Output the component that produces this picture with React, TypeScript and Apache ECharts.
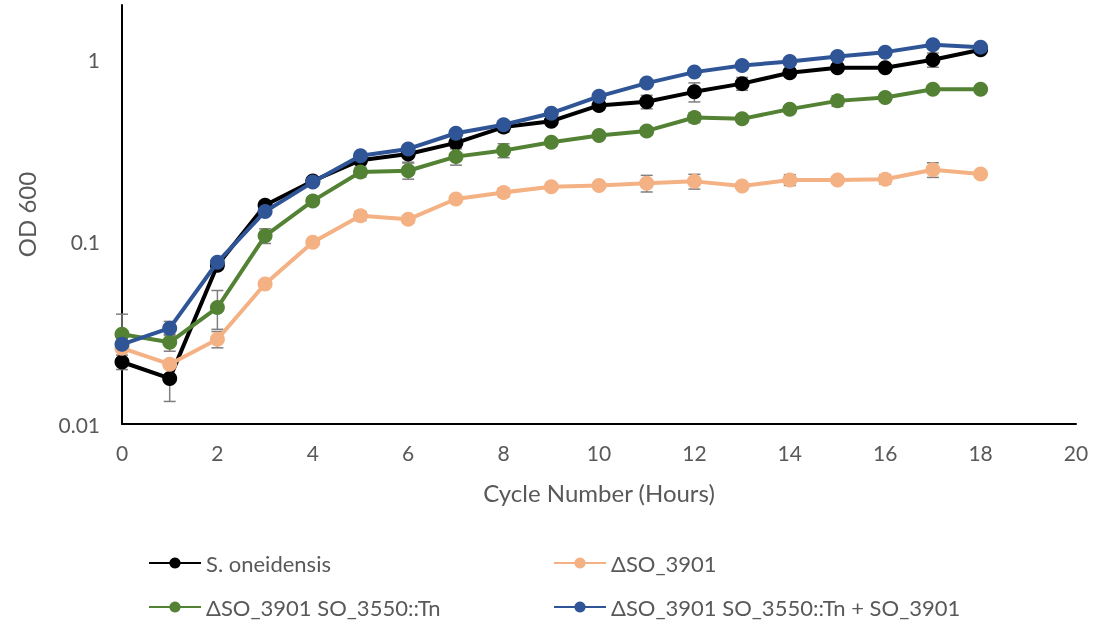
import React, { useEffect, useRef } from "react";
import * as echarts from "echarts";

const hours = [0, 1, 2, 3, 4, 5, 6, 7, 8, 9, 10, 11, 12, 13, 14, 15, 16, 17, 18];
const seriesNames = [
  "S. oneidensis",
  "ΔSO_3901",
  "ΔSO_3901 SO_3550::Tn",
  "ΔSO_3901 SO_3550::Tn + SO_3901",
];
const wildType = [0.0219, 0.0178, 0.0745, 0.159, 0.216, 0.281, 0.304, 0.35, 0.427, 0.46, 0.562, 0.588, 0.667, 0.74, 0.849, 0.904, 0.904, 1.0, 1.135];
const deletion = [0.0261, 0.0213, 0.0292, 0.0588, 0.0996, 0.139, 0.133, 0.172, 0.187, 0.201, 0.204, 0.21, 0.215, 0.203, 0.219, 0.219, 0.221, 0.249, 0.236];
const transposon = [0.0311, 0.0281, 0.0436, 0.108, 0.168, 0.242, 0.246, 0.294, 0.318, 0.353, 0.384, 0.407, 0.482, 0.474, 0.536, 0.595, 0.621, 0.69, 0.69];
const complemented = [0.0274, 0.0336, 0.0773, 0.147, 0.213, 0.297, 0.324, 0.395, 0.44, 0.509, 0.63, 0.745, 0.856, 0.931, 0.979, 1.043, 1.102, 1.209, 1.174];

const wildTypeErr = [0.002, 0.0045, 0.004, 0.008, 0.01, 0.015, 0.03, 0.02, 0.025, 0.02, 0.03, 0.05, 0.08, 0.06, 0.04, 0.03, 0.03, 0.09, 0.04];
const deletionErr = [0.001, 0.001, 0.003, 0.002, 0.004, 0.008, 0.006, 0.005, 0.01, 0.008, 0.008, 0.022, 0.02, 0.006, 0.015, 0.008, 0.013, 0.023, 0.01];
const transposonErr = [0.009, 0.003, 0.0105, 0.01, 0.008, 0.015, 0.025, 0.03, 0.028, 0.015, 0.015, 0.02, 0.03, 0.02, 0.02, 0.04, 0.02, 0.03, 0.02];
const complementedErr = [0.002, 0.003, 0.003, 0.005, 0.008, 0.01, 0.015, 0.015, 0.02, 0.02, 0.02, 0.03, 0.03, 0.03, 0.04, 0.04, 0.04, 0.04, 0.04];

const yTickLabels = ["0.01", "0.1", "1"];
const colors = ["#000000", "#F4B183", "#548235", "#2F5597"];

const FONT = "Lato";
const TEXT_COLOR = "#595959";

export default function App() {
  const ref = useRef<HTMLDivElement>(null);
  useEffect(() => {
    if (!ref.current) return;
    const chart = echarts.init(ref.current, undefined, { renderer: "svg" });
    const values = [wildType, deletion, transposon, complemented];
    const errs = [wildTypeErr, deletionErr, transposonErr, complementedErr];

    const errorSeries = values.map((vals, si) => ({
      type: "custom",
      name: seriesNames[si] + " err",
      z: 1,
      silent: true,
      data: hours.map((h, i) => [h, vals[i] - errs[si][i], vals[i] + errs[si][i]]),
      renderItem: (params: any, api: any) => {
        const x = api.value(0);
        const lo = api.coord([x, api.value(1)]);
        const hi = api.coord([x, api.value(2)]);
        const half = 6;
        const style = { stroke: "#7F7F7F", lineWidth: 1.5 };
        return {
          type: "group",
          children: [
            { type: "line", shape: { x1: lo[0], y1: lo[1], x2: hi[0], y2: hi[1] }, style },
            { type: "line", shape: { x1: lo[0] - half, y1: lo[1], x2: lo[0] + half, y2: lo[1] }, style },
            { type: "line", shape: { x1: hi[0] - half, y1: hi[1], x2: hi[0] + half, y2: hi[1] }, style },
          ],
        };
      },
    }));

    const lineSeries = values.map((vals, si) => ({
      type: "line",
      name: seriesNames[si],
      z: 2 + si,
      data: hours.map((h, i) => [h, vals[i]]),
      symbol: "circle",
      symbolSize: 15,
      lineStyle: { color: colors[si], width: 4 },
      itemStyle: { color: colors[si] },
    }));

    const legendBase = {
      orient: "vertical",
      itemWidth: 52,
      itemHeight: 14,
      itemGap: 22,
      textStyle: { fontFamily: FONT, fontSize: 22, color: TEXT_COLOR },
    };

    chart.setOption({
      animation: false,
      color: colors,
      grid: { left: 122, right: 20, top: 5, bottom: 201, containLabel: false },
      legend: [
        { ...legendBase, left: 143, top: 547, data: [seriesNames[0], seriesNames[2]] },
        { ...legendBase, left: 548, top: 547, data: [seriesNames[1], seriesNames[3]] },
      ],
      xAxis: {
        type: "value",
        min: 0,
        max: 20,
        interval: 2,
        name: "Cycle Number (Hours)",
        nameLocation: "middle",
        nameGap: 56,
        nameTextStyle: { fontFamily: FONT, fontSize: 24, color: TEXT_COLOR },
        axisLine: { show: true, lineStyle: { color: "#000000", width: 2 } },
        axisTick: { show: false },
        splitLine: { show: false },
        axisLabel: { fontFamily: FONT, fontSize: 21, color: TEXT_COLOR, margin: 18 },
      },
      yAxis: {
        type: "log",
        logBase: 10,
        min: 0.01,
        max: 2,
        name: "OD 600",
        nameLocation: "middle",
        nameGap: 84,
        nameTextStyle: { fontFamily: FONT, fontSize: 24, color: TEXT_COLOR },
        axisLine: { show: true, lineStyle: { color: "#000000", width: 2 } },
        axisTick: { show: false },
        splitLine: { show: false },
        axisLabel: {
          fontFamily: FONT,
          fontSize: 21,
          color: TEXT_COLOR,
          margin: 22,
          formatter: (v: number) => {
            const match = yTickLabels.find((t) => Math.abs(parseFloat(t) - v) < 1e-9);
            return match ?? "";
          },
        },
      },
      series: [...errorSeries, ...lineSeries],
    });
    return () => chart.dispose();
  }, []);
  return <div ref={ref} style={{ position: "fixed", left: 0, top: 0, width: 1096, height: 625 }} />;
}
